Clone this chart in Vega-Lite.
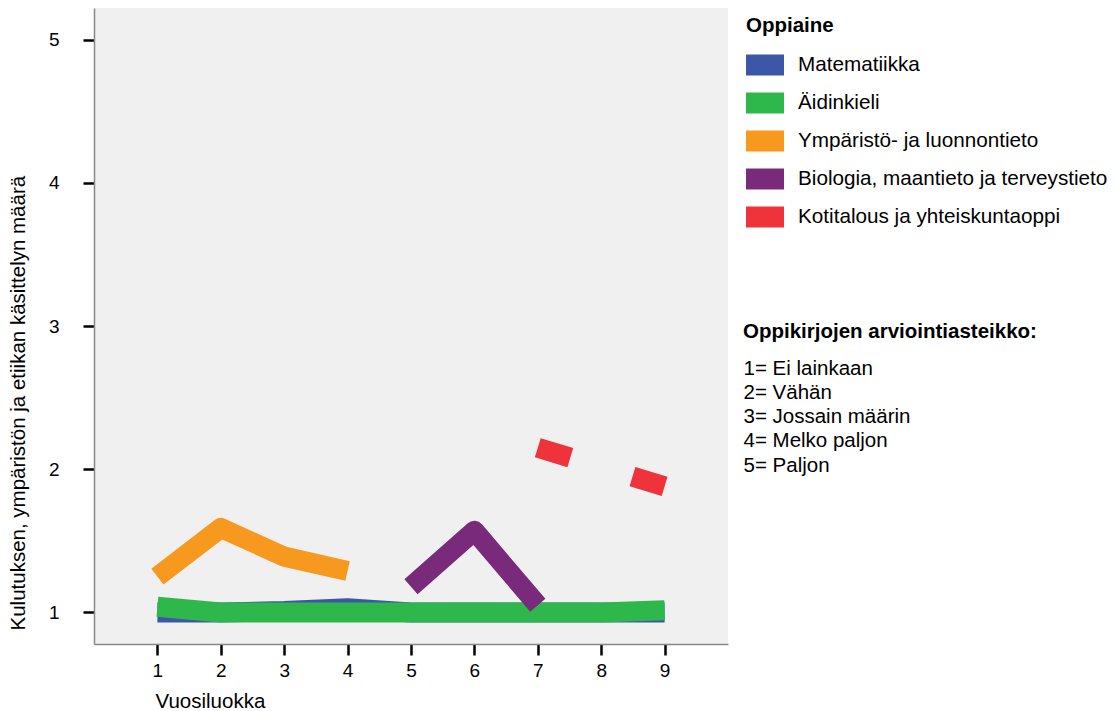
{
  "$schema": "https://vega.github.io/schema/vega-lite/v6.json",
  "autosize": {"type": "none"},
  "padding": {"left": 94, "top": 8, "right": 386, "bottom": 67},
  "width": 634,
  "height": 636,
  "view": {"fill": "#f0f0f0", "stroke": "#f0f0f0", "strokeWidth": 0},
  "config": {
    "font": "Liberation Sans",
    "view": {"fill": "#f0f0f0", "stroke": "#f0f0f0", "strokeWidth": 0}
  },
  "layer": [
    {
      "data": {"values": [
        {"grade": 1, "subject": "Matematiikka", "value": 1.0},
        {"grade": 2, "subject": "Matematiikka", "value": 1.0},
        {"grade": 3, "subject": "Matematiikka", "value": 1.01},
        {"grade": 4, "subject": "Matematiikka", "value": 1.03},
        {"grade": 5, "subject": "Matematiikka", "value": 1.0},
        {"grade": 6, "subject": "Matematiikka", "value": 1.0},
        {"grade": 7, "subject": "Matematiikka", "value": 1.0},
        {"grade": 8, "subject": "Matematiikka", "value": 1.0},
        {"grade": 9, "subject": "Matematiikka", "value": 1.0}
      ]},
      "mark": {"type": "line", "strokeWidth": 20, "strokeJoin": "round", "strokeCap": "butt"},
      "encoding": {
        "x": {"field": "grade", "type": "quantitative", "scale": {"domain": [0, 10], "nice": false, "zero": false},
          "axis": {"values": [1,2,3,4,5,6,7,8,9], "format": "d", "grid": false, "domainColor": "#888888", "domainWidth": 1.5,
            "tickColor": "#000000", "tickWidth": 2.5, "tickSize": 11, "labelFontSize": 19, "labelColor": "#000000",
            "labelPadding": 6, "title": "Vuosiluokka", "titleFontSize": 20.5, "titleFontWeight": "normal", "titleColor": "#000000",
            "titleX": 61, "titleY": 57, "titleAlign": "left", "titleBaseline": "middle"}},
        "y": {"field": "value", "type": "quantitative", "scale": {"domain": [0.78, 5.22], "nice": false, "zero": false},
          "axis": {"values": [1,2,3,4,5], "format": "d", "grid": false, "domainColor": "#888888", "domainWidth": 1.5,
            "tickColor": "#000000", "tickWidth": 2.5, "tickSize": 11, "labelFontSize": 19, "labelColor": "#000000",
            "labelPadding": 24, "title": "Kulutuksen, ympäristön ja etiikan käsittelyn määrä", "titleFontSize": 20.5,
            "titleFontWeight": "normal", "titleColor": "#000000", "titleAngle": -90, "titleLimit": 700,
            "titleX": -76, "titleY": 622, "titleAlign": "left", "titleBaseline": "middle"}},
        "color": {"field": "subject", "type": "nominal",
          "scale": {"domain": ["Matematiikka", "Äidinkieli", "Ympäristö- ja luonnontieto", "Biologia, maantieto ja terveystieto", "Kotitalous ja yhteiskuntaoppi"],
            "range": ["#3d57a8", "#2eb84b", "#f7991f", "#7a2a7b", "#ef333a"]},
          "legend": {"orient": "none", "legendX": 652, "legendY": 7.5, "padding": 0,
            "title": "Oppiaine", "titleFontSize": 20.5, "titleFontWeight": "bold", "titleColor": "#000000", "titlePadding": 10,
            "labelFontSize": 20.7, "labelColor": "#000000", "labelOffset": 14, "rowPadding": 8, "labelLimit": 400,
            "symbolType": "M-1,-0.553H1V0.553H-1Z", "symbolSize": 1444, "symbolStrokeWidth": 0,
            "encode": {"symbols": {"update": {"fill": {"scale": "color", "field": "value"}, "stroke": {"value": "transparent"}, "opacity": {"value": 1}, "strokeDash": {"value": []}}}}}}
      }
    },
    {
      "data": {"values": [
        {"grade": 1, "subject": "Äidinkieli", "value": 1.04},
        {"grade": 2, "subject": "Äidinkieli", "value": 1.0},
        {"grade": 3, "subject": "Äidinkieli", "value": 1.0},
        {"grade": 4, "subject": "Äidinkieli", "value": 1.0},
        {"grade": 5, "subject": "Äidinkieli", "value": 1.0},
        {"grade": 6, "subject": "Äidinkieli", "value": 1.0},
        {"grade": 7, "subject": "Äidinkieli", "value": 1.0},
        {"grade": 8, "subject": "Äidinkieli", "value": 1.0},
        {"grade": 9, "subject": "Äidinkieli", "value": 1.015},
        {"grade": 1, "subject": "Ympäristö- ja luonnontieto", "value": 1.25},
        {"grade": 2, "subject": "Ympäristö- ja luonnontieto", "value": 1.59},
        {"grade": 3, "subject": "Ympäristö- ja luonnontieto", "value": 1.39},
        {"grade": 4, "subject": "Ympäristö- ja luonnontieto", "value": 1.29},
        {"grade": 5, "subject": "Biologia, maantieto ja terveystieto", "value": 1.18},
        {"grade": 6, "subject": "Biologia, maantieto ja terveystieto", "value": 1.57},
        {"grade": 7, "subject": "Biologia, maantieto ja terveystieto", "value": 1.05}
      ]},
      "mark": {"type": "line", "strokeWidth": 20, "strokeJoin": "round", "strokeCap": "butt"},
      "encoding": {
        "x": {"field": "grade", "type": "quantitative"},
        "y": {"field": "value", "type": "quantitative"},
        "color": {"field": "subject", "type": "nominal"}
      }
    },
    {
      "data": {"values": [
        {"grade": 7, "subject": "Kotitalous ja yhteiskuntaoppi", "value": 2.15},
        {"grade": 9, "subject": "Kotitalous ja yhteiskuntaoppi", "value": 1.88}
      ]},
      "mark": {"type": "line", "strokeWidth": 20, "strokeCap": "butt", "strokeDash": [34, 65]},
      "encoding": {
        "x": {"field": "grade", "type": "quantitative"},
        "y": {"field": "value", "type": "quantitative"},
        "color": {"field": "subject", "type": "nominal"}
      }
    },
    {
      "data": {"values": [
        {"label": "1= Ei lainkaan"},
        {"label": "2= Vähän"},
        {"label": "3= Jossain määrin"},
        {"label": "4= Melko paljon"},
        {"label": "5= Paljon"}
      ]},
      "mark": {"type": "point", "opacity": 0},
      "encoding": {
        "shape": {"field": "label", "type": "nominal",
          "legend": {"orient": "none", "legendX": 649, "legendY": 314, "padding": 0,
            "title": "Oppikirjojen arviointiasteikko:", "titleFontSize": 20.5, "titleFontWeight": "bold", "titleColor": "#000000",
            "titlePadding": 16, "titleLimit": 400,
            "labelFontSize": 20.5, "labelColor": "#000000", "labelOffset": -20, "rowPadding": 3.2, "labelLimit": 400,
            "symbolSize": 1, "symbolOpacity": 0, "symbolStrokeWidth": 0}}
      }
    }
  ]
}
